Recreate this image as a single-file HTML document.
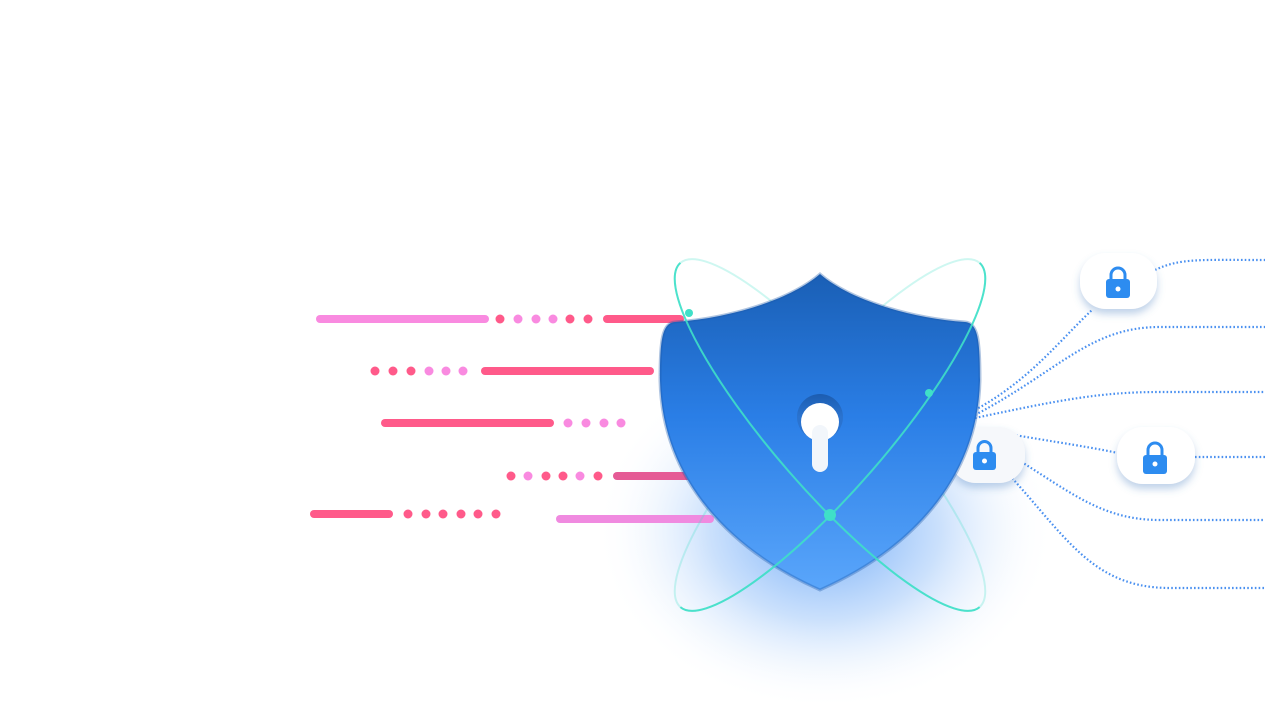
<!DOCTYPE html>
<html><head><meta charset="utf-8"><style>
html,body{margin:0;padding:0;background:#fff;width:1265px;height:720px;overflow:hidden}
</style></head><body>
<svg width="1265" height="720" viewBox="0 0 1265 720" xmlns="http://www.w3.org/2000/svg">
<defs>
<radialGradient id="glow" cx="50%" cy="50%" r="50%">
<stop offset="0" stop-color="#3d8cf5" stop-opacity="0.75"/>
<stop offset="0.5" stop-color="#6aa8f7" stop-opacity="0.35"/>
<stop offset="1" stop-color="#fff" stop-opacity="0"/>
</radialGradient>
<linearGradient id="sh" x1="0" y1="0" x2="0" y2="1">
<stop offset="0" stop-color="#1a5fb5"/>
<stop offset="0.45" stop-color="#2a7ee6"/>
<stop offset="1" stop-color="#5aa6fb"/>
</linearGradient>
<linearGradient id="kh" x1="0" y1="0" x2="0" y2="1">
<stop offset="0" stop-color="#1c5cb0"/>
<stop offset="0.5" stop-color="#2a73d0"/>
</linearGradient>
<filter id="sd" x="-50%" y="-50%" width="200%" height="200%"><feDropShadow dx="0" dy="5" stdDeviation="4" flood-color="#4a7fc0" flood-opacity="0.35"/></filter>
</defs>

<ellipse cx="825" cy="530" rx="230" ry="180" fill="url(#glow)"/>

<g stroke-linecap="round" stroke-width="8" fill="none">
<line x1="320" y1="319" x2="485" y2="319" stroke="#f98ae0"/>
<line x1="607" y1="319" x2="680" y2="319" stroke="#ff5a8a"/>
<line x1="485" y1="371" x2="650" y2="371" stroke="#ff5a8a"/>
<line x1="385" y1="423" x2="550" y2="423" stroke="#ff5a8a"/>
<line x1="617" y1="476" x2="690" y2="476" stroke="#e55a95"/>
<line x1="314" y1="514" x2="389" y2="514" stroke="#ff5a8a"/>
<line x1="560" y1="519" x2="710" y2="519" stroke="#f08ae0"/>
</g>
<g>
<circle cx="500" cy="319" r="4.5" fill="#ff5a8a"/><circle cx="518" cy="319" r="4.5" fill="#f98ae0"/><circle cx="536" cy="319" r="4.5" fill="#f98ae0"/><circle cx="553" cy="319" r="4.5" fill="#f98ae0"/><circle cx="570" cy="319" r="4.5" fill="#ff5a8a"/><circle cx="588" cy="319" r="4.5" fill="#ff5a8a"/>
<circle cx="375" cy="371" r="4.5" fill="#ff5a8a"/><circle cx="393" cy="371" r="4.5" fill="#ff5a8a"/><circle cx="411" cy="371" r="4.5" fill="#ff5a8a"/><circle cx="429" cy="371" r="4.5" fill="#f98ae0"/><circle cx="446" cy="371" r="4.5" fill="#f98ae0"/><circle cx="463" cy="371" r="4.5" fill="#f98ae0"/>
<circle cx="568" cy="423" r="4.5" fill="#f98ae0"/><circle cx="586" cy="423" r="4.5" fill="#f98ae0"/><circle cx="604" cy="423" r="4.5" fill="#f98ae0"/><circle cx="621" cy="423" r="4.5" fill="#f98ae0"/>
<circle cx="511" cy="476" r="4.5" fill="#ff5a8a"/><circle cx="528" cy="476" r="4.5" fill="#f98ae0"/><circle cx="546" cy="476" r="4.5" fill="#ff5a8a"/><circle cx="563" cy="476" r="4.5" fill="#ff5a8a"/><circle cx="580" cy="476" r="4.5" fill="#f98ae0"/><circle cx="598" cy="476" r="4.5" fill="#ff5a8a"/>
<circle cx="408" cy="514" r="4.5" fill="#ff5a8a"/><circle cx="426" cy="514" r="4.5" fill="#ff5a8a"/><circle cx="443" cy="514" r="4.5" fill="#ff5a8a"/><circle cx="461" cy="514" r="4.5" fill="#ff5a8a"/><circle cx="478" cy="514" r="4.5" fill="#ff5a8a"/><circle cx="496" cy="514" r="4.5" fill="#ff5a8a"/>
</g>

<g stroke="#4a90f0" stroke-width="2.2" stroke-dasharray="1.6 2.2" fill="none">
<path d="M975 410 C1030 380 1060 340 1092 310"/>
<path d="M1155 270 C1180 258 1200 260 1265 260"/>
<path d="M975 415 C1060 370 1090 327 1160 327 L1265 327"/>
<path d="M975 418 C1060 400 1100 392 1160 392 L1265 392"/>
<path d="M975 428 C1040 440 1080 445 1118 453"/>
<path d="M1195 457 L1265 457"/>
<path d="M975 435 C1060 480 1090 520 1160 520 L1265 520"/>
<path d="M975 440 C1060 520 1080 588 1170 588 L1265 588"/>
</g>

<!-- back halves of orbits, faint -->
<g fill="none" stroke="#3fe0c8" stroke-width="2" opacity="0.25">
<ellipse cx="830" cy="435" rx="228" ry="55" transform="rotate(49 830 435)"/>
<ellipse cx="830" cy="435" rx="228" ry="55" transform="rotate(131 830 435)"/>
</g>

<g filter="url(#sd)">
<rect x="1080" y="253" width="77" height="56" rx="26" fill="#fff"/>
<rect x="1117" y="427" width="78" height="57" rx="26" fill="#fff"/>
<rect x="950" y="427" width="75" height="56" rx="26" fill="#f6f8fb"/>
</g>
<g fill="#2d8cf0">
<path d="M1111 281 v-6 a7 7 0 0 1 14 0 v6" stroke="#2d8cf0" stroke-width="3" fill="none"/>
<rect x="1106" y="279" width="24" height="19" rx="3"/>
<path d="M1148 456 v-6 a7 7 0 0 1 14 0 v6" stroke="#2d8cf0" stroke-width="3" fill="none"/>
<rect x="1143" y="455" width="24" height="19" rx="3"/>
</g>
<g fill="#fff"><circle cx="1118" cy="289" r="2.5"/><circle cx="1155" cy="464" r="2.5"/></g>

<path d="M820 274 C790 300 730 318 675 322 C662 323 660 340 660 380 C662 480 730 550 820 590 C910 550 978 480 980 380 C980 340 978 323 965 322 C910 318 850 300 820 274 Z" fill="url(#sh)"/>
<path d="M820 274 C790 300 730 318 675 322 C662 323 660 340 660 380 C662 480 730 550 820 590 C910 550 978 480 980 380 C980 340 978 323 965 322 C910 318 850 300 820 274 Z" fill="none" stroke="#1d5aa8" stroke-opacity="0.35" stroke-width="3"/>

<g fill="#2d8cf0">
<path d="M978 454 v-6 a6.5 6.5 0 0 1 13 0 v6" stroke="#2d8cf0" stroke-width="3" fill="none"/>
<rect x="973" y="452" width="23" height="18" rx="3"/>
</g>
<circle cx="984.5" cy="461" r="2.5" fill="#fff"/>

<circle cx="820" cy="417" r="23" fill="url(#kh)"/>
<circle cx="820" cy="422" r="19" fill="#fff"/>
<rect x="812" y="425" width="16" height="47" rx="8" fill="#f2f6fb"/>

<!-- front arcs of orbits -->
<g fill="none" stroke="#3fe0c8" stroke-width="2" opacity="0.9">
<path d="M680.4 262.9 A228 55 49 0 0 979.6 607.1"/>
<path d="M979.6 262.9 A228 55 131 0 1 680.4 607.1"/>
</g>
<g fill="#3fe0c8">
<circle cx="689" cy="313" r="4"/><circle cx="929" cy="393" r="4"/><circle cx="830" cy="515" r="6"/>
</g>
</svg>
</body></html>
